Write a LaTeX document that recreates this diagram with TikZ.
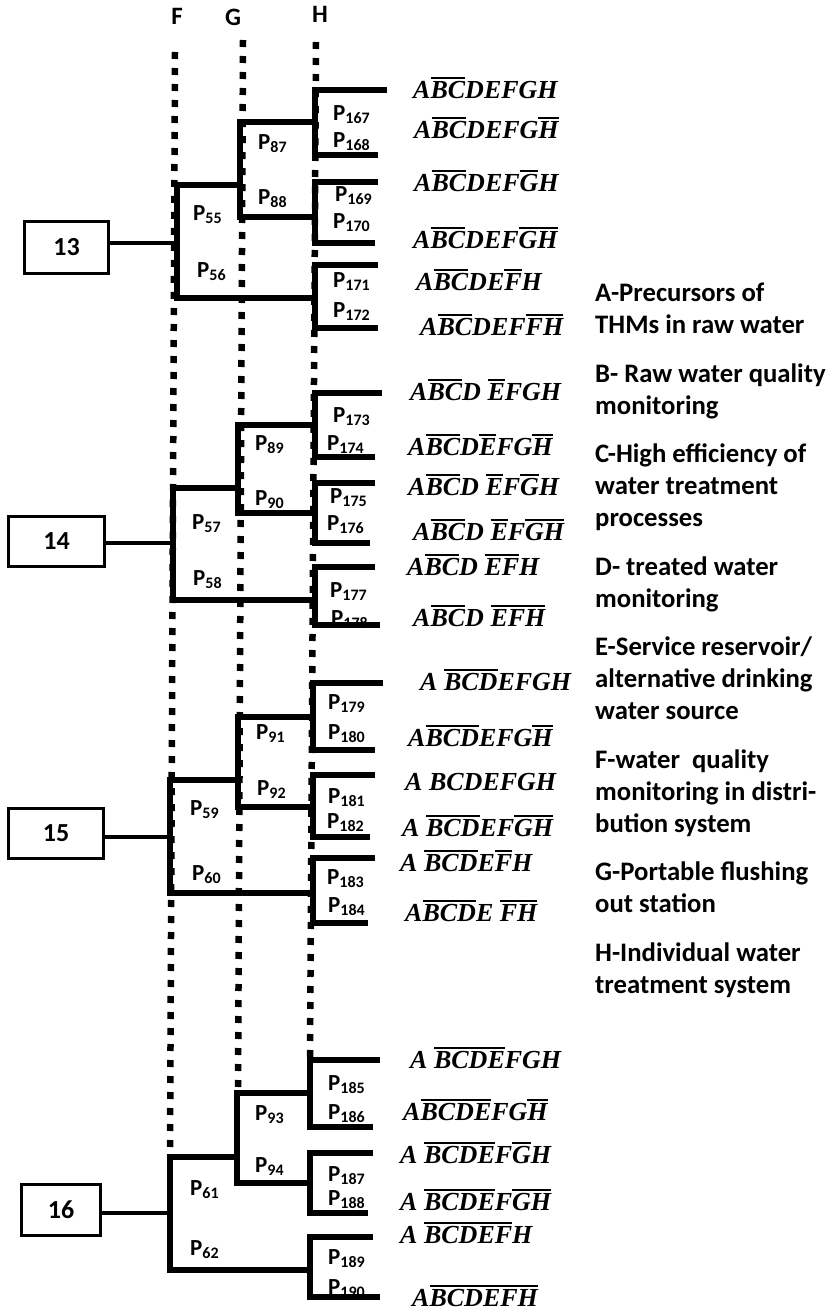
\documentclass[tikz,border=0pt]{standalone}
\usepackage{fontspec}
\setmainfont{Carlito}
\newfontfamily\lblfont{Liberation Serif}
\newcommand\ovl[1]{\vbox{\hrule height 1.8pt\kern 1.8pt\hbox{#1}}}
\newcommand\Pl[1]{P\raisebox{-3.5pt}{\fontsize{16}{16}\selectfont #1}}
\tikzset{
  br/.style={line width=6pt, line join=miter},
  dots/.style={line width=6.5pt, dash pattern=on 7pt off 9pt},
  link/.style={line width=4.5pt},
  numbox/.style={draw, line width=2.6pt, inner sep=0pt, font=\fontsize{26}{26}\selectfont\bfseries},
  plbl/.style={anchor=base west, inner sep=0pt, font=\fontsize{23}{23}\selectfont\bfseries},
  flbl/.style={anchor=base west, inner sep=0pt, font=\fontsize{26}{26}\selectfont\lblfont\bfseries\itshape},
  hdr/.style={inner sep=0pt, font=\fontsize{25}{25}\selectfont\bfseries},
  legline/.style={anchor=base west, inner sep=0pt, font=\fontsize{26.7}{32}\selectfont\bfseries}
}
\begin{document}
\begin{tikzpicture}[x=1pt,y=-1pt]
\useasboundingbox (0,0) rectangle (830,1314);
\fill[white] (0,0) rectangle (830,1314);

% headers
\node[hdr] (hF) at (177,16.5) {F};
\node[hdr] (hG) at (233,17) {G};
\node[hdr] (hH) at (320,14.5) {H};

% dotted guide lines
\coordinate (Ft) at (175,52);  \coordinate (Fb) at (170,1157);
\coordinate (Gt) at (243,40);  \coordinate (Gb) at (238,1093);
\coordinate (Ht) at (316,42);  \coordinate (Hb) at (310,1060);
\draw[dots] (Ft) -- (Fb);
\draw[dots] (Gt) -- (Gb);
\draw[dots] (Ht) -- (Hb);

% ===== tree 13 =====
\node[numbox, minimum width=84pt, minimum height=52pt] (b13) at (66.5,247.5) {13};
\coordinate (f13) at (177,243);
\draw[link] (b13.east |- f13) -- (f13);
\draw[br] (240,185) -- (177,185) -- (177,298) -- (315,298);
\draw[br] (315,122) -- (240,122) -- (240,217) -- (315,217);
\draw[br] (387,90) -- (315,90) -- (315,155) -- (378,155);
\draw[br] (378,182) -- (315,182) -- (315,243) -- (375,243);
\draw[br] (378,265) -- (315,265) -- (315,328) -- (378,328);
\node[plbl] (p55) at (193,220) {\Pl{55}};
\node[plbl] (p56) at (197,277) {\Pl{56}};
\node[plbl] (p87) at (258,149) {\Pl{87}};
\node[plbl] (p88) at (258,204) {\Pl{88}};
\node[plbl] (p167) at (333,120) {\Pl{167}};
\node[plbl] (p168) at (333,147) {\Pl{168}};
\node[plbl] (p169) at (335,201) {\Pl{169}};
\node[plbl] (p170) at (333,228) {\Pl{170}};
\node[plbl] (p171) at (333,287) {\Pl{171}};
\node[plbl] (p172) at (333,317) {\Pl{172}};
\node[flbl] (l1) at (413,98) {A\ovl{BC}DEFGH};
\node[flbl] (l2) at (414,138) {A\ovl{BC}DEFG\ovl{H}};
\node[flbl] (l3) at (414,191) {A\ovl{BC}DEF\ovl{G}H};
\node[flbl] (l4) at (413,248) {A\ovl{BC}DEF\ovl{G}\ovl{H}};
\node[flbl] (l5) at (416,290) {A\ovl{BC}DE\ovl{F}H};
\node[flbl] (l6) at (420,335) {A\ovl{BC}DEF\ovl{FH}};

% ===== tree 14 =====
\node[numbox, minimum width=96pt, minimum height=50pt] (b14) at (56.5,541.5) {14};
\coordinate (f14) at (173,543);
\draw[link] (b14.east |- f14) -- (f14);
\draw[br] (238,488) -- (173,488) -- (173,600) -- (315,600);
\draw[br] (315,425) -- (238,425) -- (238,513) -- (315,513);
\draw[br] (382,393) -- (315,393) -- (315,457) -- (375,457);
\draw[br] (375,483) -- (315,483) -- (315,543) -- (370,543);
\draw[br] (375,567) -- (315,567) -- (315,625) -- (380,625);
\node[plbl] (p57) at (192,529) {\Pl{57}};
\node[plbl] (p58) at (193,585) {\Pl{58}};
\node[plbl] (p89) at (255,450) {\Pl{89}};
\node[plbl] (p90) at (255,505) {\Pl{90}};
\node[plbl] (p173) at (333,422) {\Pl{173}};
\node[plbl] (p174) at (327,450) {\Pl{174}};
\node[plbl] (p175) at (330,503) {\Pl{175}};
\node[plbl] (p176) at (327,530) {\Pl{176}};
\node[plbl] (p177) at (330,597) {\Pl{177}};
\node[plbl] (p178) at (331,625) {\Pl{178}};
\node[flbl] (l7) at (410,400) {A\ovl{BC}D \ovl{E}FGH};
\node[flbl] (l8) at (408,455) {A\ovl{BC}D\ovl{E}FG\ovl{H}};
\node[flbl] (l9) at (408,495) {A\ovl{BC}D \ovl{E}F\ovl{G}H};
\node[flbl] (l10) at (413,540) {A\ovl{BC}D \ovl{E}F\ovl{GH}};
\node[flbl] (l11) at (407,575) {A\ovl{BC}D \ovl{EF}H};
\node[flbl] (l12) at (413,626) {A\ovl{BC}D \ovl{EFH}};

% ===== tree 15 =====
\node[numbox, minimum width=95pt, minimum height=50pt] (b15) at (56,833.5) {15};
\coordinate (f15) at (170,837);
\draw[link] (b15.east |- f15) -- (f15);
\draw[br] (238,780) -- (170,780) -- (170,893) -- (313,893);
\draw[br] (313,717) -- (238,717) -- (238,807) -- (313,807);
\draw[br] (383,683) -- (313,683) -- (313,750) -- (375,750);
\draw[br] (375,775) -- (313,775) -- (313,837) -- (370,837);
\draw[br] (375,858) -- (313,858) -- (313,923) -- (368,923);
\node[plbl] (p59) at (190,815) {\Pl{59}};
\node[plbl] (p60) at (192,880) {\Pl{60}};
\node[plbl] (p91) at (256,739) {\Pl{91}};
\node[plbl] (p92) at (257,795) {\Pl{92}};
\node[plbl] (p179) at (328,709) {\Pl{179}};
\node[plbl] (p180) at (328,739) {\Pl{180}};
\node[plbl] (p181) at (328,803) {\Pl{181}};
\node[plbl] (p182) at (327,828) {\Pl{182}};
\node[plbl] (p183) at (327,884) {\Pl{183}};
\node[plbl] (p184) at (328,912) {\Pl{184}};
\node[flbl] (l13) at (420,690) {A \ovl{BCD}EFGH};
\node[flbl] (l14) at (408,746) {A\ovl{BCD}EFG\ovl{H}};
\node[flbl] (l15) at (405,790) {A BCDEFGH};
\node[flbl] (l16) at (402,836) {A \ovl{BCD}EF\ovl{GH}};
\node[flbl] (l17) at (400,871) {A \ovl{BCD}E\ovl{F}H};
\node[flbl] (l18) at (405,921) {A\ovl{BCD}E \ovl{FH}};

% ===== tree 16 =====
\node[numbox, minimum width=79pt, minimum height=51pt] (b16) at (61,1210) {16};
\coordinate (f16) at (170,1213);
\draw[link] (b16.east |- f16) -- (f16);
\draw[br] (237,1157) -- (170,1157) -- (170,1270) -- (310,1270);
\draw[br] (310,1093) -- (237,1093) -- (237,1183) -- (310,1183);
\draw[br] (380,1060) -- (310,1060) -- (310,1127) -- (373,1127);
\draw[br] (373,1153) -- (310,1153) -- (310,1213) -- (368,1213);
\draw[br] (373,1237) -- (310,1237) -- (310,1297) -- (380,1297);
\node[plbl] (p61) at (190,1195) {\Pl{61}};
\node[plbl] (p62) at (190,1255) {\Pl{62}};
\node[plbl] (p93) at (255,1120) {\Pl{93}};
\node[plbl] (p94) at (255,1172) {\Pl{94}};
\node[plbl] (p185) at (328,1090) {\Pl{185}};
\node[plbl] (p186) at (328,1119) {\Pl{186}};
\node[plbl] (p187) at (328,1181) {\Pl{187}};
\node[plbl] (p188) at (328,1205) {\Pl{188}};
\node[plbl] (p189) at (328,1264) {\Pl{189}};
\node[plbl] (p190) at (328,1294) {\Pl{190}};
\node[flbl] (l19) at (410,1068) {A \ovl{BCDE}FGH};
\node[flbl] (l20) at (403,1120) {A\ovl{BCDE}FG\ovl{H}};
\node[flbl] (l21) at (400,1163) {A \ovl{BCDE}F\ovl{G}H};
\node[flbl] (l22) at (400,1210) {A \ovl{BCDE}F\ovl{GH}};
\node[flbl] (l23) at (400,1243) {A \ovl{BCDEF}H};
\node[flbl] (l24) at (412,1306) {A\ovl{BCDEFH}};

% ===== legend =====
\foreach \yy/\tt [count=\i] in {
  301.5/{A-Precursors of}, 333.5/{THMs in raw water},
  382/{B- Raw water quality}, 414/{monitoring},
  462.5/{C-High efficiency of}, 494.5/{water treatment}, 526.5/{processes},
  575/{D- treated water}, 607/{monitoring},
  655.5/{E-Service reservoir/}, 687.5/{alternative drinking}, 719.5/{water source},
  768/{F-water\ \ quality}, 800/{monitoring in distri-}, 832/{bution system},
  880.5/{G-Portable flushing}, 912.5/{out station},
  961/{H-Individual water}, 993/{treatment system}}
  \node[legline] (leg\i) at (595,\yy) {\tt};
\end{tikzpicture}
\end{document}
